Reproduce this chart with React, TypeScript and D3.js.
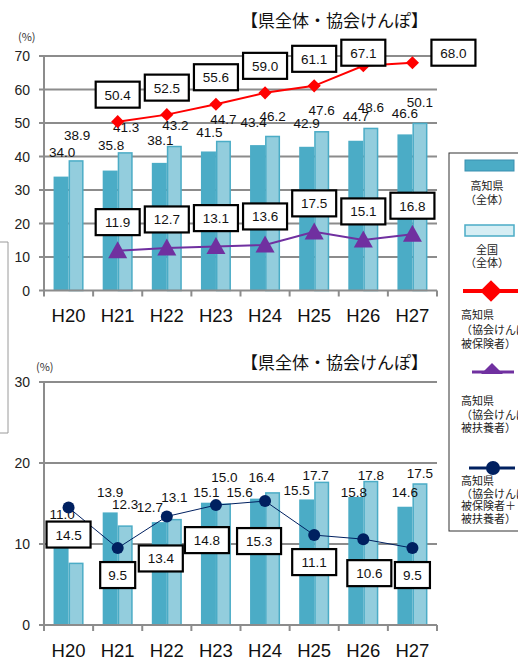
import React from "react";
import * as d3 from "d3";

// ---------- data ----------
const categories = ["H20", "H21", "H22", "H23", "H24", "H25", "H26", "H27"];

// top chart
const topKochiTotal = [34.0, 35.8, 38.1, 41.5, 43.4, 42.9, 44.7, 46.6];
const topNationalTotal = [38.9, 41.3, 43.2, 44.7, 46.2, 47.6, 48.6, 50.1];
const topKyokaiInsured: (number | null)[] = [null, 50.4, 52.5, 55.6, 59.0, 61.1, 67.1, 68.0];
const topKyokaiDependents: (number | null)[] = [null, 11.9, 12.7, 13.1, 13.6, 17.5, 15.1, 16.8];
const topYTicks = [0, 10, 20, 30, 40, 50, 60, 70];

// bottom chart
const bottomKochiTotal = [11.0, 13.9, 12.7, 15.1, 15.6, 15.5, 15.8, 14.6];
const bottomNationalTotal = [7.7, 12.3, 13.1, 15.0, 16.4, 17.7, 17.8, 17.5];
const bottomNationalLabelShown = [false, true, true, true, true, true, true, true];
const bottomKyokaiCombined = [14.5, 9.5, 13.4, 14.8, 15.3, 11.1, 10.6, 9.5];
const bottomYTicks = [0, 10, 20, 30];

const title = "【県全体・協会けんぽ】";
const legendItems = [
  { lines: ["高知県", "（全体）"], align: "middle" },
  { lines: ["全国", "（全体）"], align: "middle" },
  { lines: ["高知県", "（協会けんぽ", "被保険者）"], align: "start" },
  { lines: ["高知県", "（協会けんぽ", "被扶養者）"], align: "start" },
  { lines: ["高知県", "（協会けんぽ", "被保険者＋", "被扶養者）"], align: "start" },
];

// ---------- layout (label offsets, px) ----------
const redBoxDx = [0, 0, 0, 0, 0, 0, 0, 41];
const redBoxDy = [0, -27, -27, -27, -27, -27, -13, -10];
const purpleBoxDy = -28.5;
const navyBoxDx = [0, 0, -6, -9, -6, 0, 6, 0];
const navyBoxDy = [27, 27, 42, 35, 40, 27, 34, 27];
const topDarkLabelDx = [1, 1, 1, 1, -4, 0, 0, 0];
const topDarkLabelDy = [-3, -4, -1, 3, -1, -2, -3, 1];
const topLightLabelDx = [1, 1, 1, 0, 0, 0, 0, 0];
const topLightLabelDy = [-3, -3, 1, 0, 2, 1, 1, 1];
const botDarkLabelDx = [1, 0, -9.5, -2, -18, -10, -2, 0];
const botDarkLabelDy = [-2, 0, 5, 9, 13, 11, 15, 5];
const botLightLabelDx = [0, 0, 0, 1, -11, -6, 0, 0];
const botLightLabelDy = [0, -1, -2, -6.5, 5, 13.5, 14, 10];

const C_DARK = "#4bacc6";
const C_LIGHT = "#93cddd";
const C_GRID = "#8c8c8c";
const NUM_FONT = "'Liberation Sans', Arial, sans-serif";
const JP_FONT = "'Noto Sans CJK JP', sans-serif";

const x = d3.scaleBand<string>().domain(categories).range([44, 437]).padding(0);
const cx = (i: number) => (x(categories[i]) as number) + x.bandwidth() / 2;
const BAR_W = 15;

function ValueBox({ x0, y0, text }: { x0: number; y0: number; text: string }) {
  const w = text.length * 9 + 8;
  const h = 26;
  return (
    <g>
      <rect x={x0 - w / 2} y={y0 - h / 2} width={w} height={h} fill="#fff" stroke="#000" strokeWidth={2.2} />
      <text x={x0} y={y0 + 5} textAnchor="middle" fontSize={13.5} fontFamily={NUM_FONT} fill="#111">
        {text}
      </text>
    </g>
  );
}

function Axes({ y, ticks, x0, x1 }: { y: d3.ScaleLinear<number, number>; ticks: number[]; x0: number; x1: number }) {
  return (
    <g>
      {ticks.filter((t) => t !== 0).map((t) => (
        <line key={t} x1={x0} x2={x1} y1={y(t)} y2={y(t)} stroke={C_GRID} strokeWidth={2} />
      ))}
      {ticks.map((t) => (
        <g key={"t" + t}>
          <line x1={x0 - 5} x2={x0} y1={y(t)} y2={y(t)} stroke={C_GRID} strokeWidth={2} />
          <text x={x0 - 14} y={y(t) + 5} textAnchor="end" fontSize={14} fontFamily={NUM_FONT} fill="#222">
            {t}
          </text>
        </g>
      ))}
    </g>
  );
}

function XAxis({ y0, labelY }: { y0: number; labelY: number }) {
  const bounds = categories.map((c) => x(c) as number).concat([437]);
  return (
    <g>
      <line x1={44} x2={437} y1={y0} y2={y0} stroke={C_GRID} strokeWidth={2} />
      {bounds.map((b, i) => (
        <line key={i} x1={b} x2={b} y1={y0} y2={y0 + 6} stroke={C_GRID} strokeWidth={2} />
      ))}
      {categories.map((c, i) => (
        <text key={c} x={cx(i)} y={labelY} textAnchor="middle" fontSize={18.5} fontFamily={NUM_FONT} fill="#111">
          {c}
        </text>
      ))}
    </g>
  );
}

function Bars({ y, dark, light }: { y: d3.ScaleLinear<number, number>; dark: number[]; light: number[] }) {
  const y0 = y(0);
  return (
    <g>
      {dark.map((v, i) => (
        <rect key={"d" + i} x={cx(i) - BAR_W} y={y(v)} width={BAR_W} height={y0 - y(v)} fill={C_DARK} />
      ))}
      {light.map((v, i) => (
        <rect key={"l" + i} x={cx(i) + 0.75} y={y(v) + 0.75} width={BAR_W - 1.5} height={y0 - y(v) - 0.75} fill={C_LIGHT} stroke={C_DARK} strokeWidth={1.5} />
      ))}
    </g>
  );
}

function BarLabels(props: {
  y: d3.ScaleLinear<number, number>;
  dark: number[];
  light: number[];
  lightShown?: boolean[];
  labelDy: number;
  ddx: number[];
  ddy: number[];
  ldx: number[];
  ldy: number[];
}) {
  const { y, dark, light, lightShown, labelDy, ddx, ddy, ldx, ldy } = props;
  return (
    <g fontSize={13.5} fontFamily={NUM_FONT} fill="#111" textAnchor="middle">
      {dark.map((v, i) => (
        <text key={"dt" + i} x={cx(i) - BAR_W / 2 + ddx[i]} y={y(v) + labelDy + 5 + ddy[i]}>
          {v.toFixed(1)}
        </text>
      ))}
      {light.map((v, i) =>
        lightShown && !lightShown[i] ? null : (
          <text key={"lt" + i} x={cx(i) + BAR_W / 2 + ldx[i]} y={y(v) + labelDy + 5 + ldy[i]}>
            {v.toFixed(1)}
          </text>
        )
      )}
    </g>
  );
}

export default function App() {
  const yTop = d3.scaleLinear().domain([0, 70]).range([290.5, 56]);
  const yBot = d3.scaleLinear().domain([0, 30]).range([625, 382]);

  const redPts = topKyokaiInsured.map((v, i) => (v == null ? null : ([cx(i), yTop(v)] as [number, number]))).filter(Boolean) as [number, number][];
  const purPts = topKyokaiDependents.map((v, i) => (v == null ? null : ([cx(i), yTop(v)] as [number, number]))).filter(Boolean) as [number, number][];
  const navPts = bottomKyokaiCombined.map((v, i) => [cx(i), yBot(v)] as [number, number]);
  const line = d3.line<[number, number]>();
  const diamond = d3.symbol().type(d3.symbolDiamond2).size(110)();
  const tri = (px: number, py: number, w: number, h: number) =>
    `M${px},${py - h / 2 - 2}L${px + w / 2},${py + h / 2}L${px - w / 2},${py + h / 2}Z`;

  return (
    <svg width={518} height={666} style={{ position: "absolute", left: 0, top: 0, background: "#fff" }}>
      <rect x={0} y={0} width={518} height={666} fill="#fff" />
      {/* partial box on far left */}
      <path d="M-2,242 L8,242 L8,433 L-2,433" fill="none" stroke="#9a9a9a" strokeWidth={1} />

      {/* ---------- TOP CHART ---------- */}
      <text x={241} y={27} fontSize={17} fontFamily={JP_FONT} fill="#111">{title}</text>
      <text x={18} y={41} fontSize={11} fontFamily={JP_FONT} fill="#333">(%)</text>
      <Axes y={yTop} ticks={topYTicks} x0={44} x1={437} />
      <Bars y={yTop} dark={topKochiTotal} light={topNationalTotal} />
      <line x1={44} x2={44} y1={56} y2={yTop(0)} stroke={C_GRID} strokeWidth={2} />
      <XAxis y0={yTop(0)} labelY={322} />
      <BarLabels y={yTop} dark={topKochiTotal} light={topNationalTotal} labelDy={-22}
        ddx={topDarkLabelDx} ddy={topDarkLabelDy} ldx={topLightLabelDx} ldy={topLightLabelDy} />
      <path d={line(redPts) || ""} fill="none" stroke="#ff0000" strokeWidth={2} />
      {redPts.map(([px, py], i) => (
        <path key={"rd" + i} d={diamond as string} transform={`translate(${px},${py})`} fill="#ff0000" />
      ))}
      <path d={line(purPts) || ""} fill="none" stroke="#7030a0" strokeWidth={2} />
      {purPts.map(([px, py], i) => (
        <path key={"pt" + i} d={tri(px, py, 19, 15)} fill="#7030a0" />
      ))}
      {topKyokaiInsured.map((v, i) =>
        v == null ? null : <ValueBox key={"rb" + i} x0={cx(i) + redBoxDx[i]} y0={yTop(v) + redBoxDy[i]} text={v.toFixed(1)} />
      )}
      {topKyokaiDependents.map((v, i) =>
        v == null ? null : <ValueBox key={"pb" + i} x0={cx(i)} y0={yTop(v) + purpleBoxDy} text={v.toFixed(1)} />
      )}

      {/* ---------- BOTTOM CHART ---------- */}
      <text x={241} y={369} fontSize={17} fontFamily={JP_FONT} fill="#111">{title}</text>
      <text x={36} y={371} fontSize={11} fontFamily={JP_FONT} fill="#333">(%)</text>
      <Axes y={yBot} ticks={bottomYTicks} x0={44} x1={437} />
      <Bars y={yBot} dark={bottomKochiTotal} light={bottomNationalTotal} />
      <line x1={44} x2={44} y1={382} y2={yBot(0)} stroke={C_GRID} strokeWidth={2} />
      <XAxis y0={yBot(0)} labelY={657} />
      <BarLabels y={yBot} dark={bottomKochiTotal} light={bottomNationalTotal} lightShown={bottomNationalLabelShown} labelDy={-20}
        ddx={botDarkLabelDx} ddy={botDarkLabelDy} ldx={botLightLabelDx} ldy={botLightLabelDy} />
      <path d={line(navPts) || ""} fill="none" stroke="#002060" strokeWidth={1} />
      {navPts.map(([px, py], i) => (
        <circle key={"nc" + i} cx={px} cy={py} r={6} fill="#002060" />
      ))}
      {bottomKyokaiCombined.map((v, i) => (
        <ValueBox key={"nb" + i} x0={cx(i) + navyBoxDx[i]} y0={yBot(v) + navyBoxDy[i]} text={v.toFixed(1)} />
      ))}

      {/* ---------- LEGEND ---------- */}
      <rect x={449} y={153} width={80} height={378} fill="#fff" stroke="#333" strokeWidth={1} />
      <rect x={465} y={160} width={49} height={11} fill={C_DARK} stroke="#3a8fb0" strokeWidth={1} />
      <rect x={465} y={225} width={49} height={11} fill="#d6eef4" stroke={C_DARK} strokeWidth={1.5} />
      <line x1={463} x2={518} y1={291} y2={291} stroke="#ff0000" strokeWidth={4} />
      <path d={d3.symbol().type(d3.symbolDiamond2).size(300)() as string} transform="translate(491,291)" fill="#ff0000" />
      <line x1={472} x2={514} y1={372} y2={372} stroke="#7030a0" strokeWidth={3} />
      <path d={tri(492, 369.5, 22, 9)} fill="#7030a0" />
      <line x1={469} x2={515} y1={468} y2={468} stroke="#002060" strokeWidth={3} />
      <circle cx={493} cy={468} r={7} fill="#002060" />
      {(() => {
        const starts = [190, 254, 319, 405, 485];
        const step = [14, 13, 14.5, 13.5, 12.5];
        return legendItems.map((it, k) => (
          <g key={"lg" + k} fontSize={11} fontFamily={JP_FONT} fill="#222">
            {it.lines.map((ln, j) => (
              <text
                key={j}
                x={it.align === "middle" ? 487 : 461}
                y={starts[k] + j * step[k]}
                textAnchor={it.align === "middle" ? "middle" : "start"}
              >
                {ln}
              </text>
            ))}
          </g>
        ));
      })()}
    </svg>
  );
}
